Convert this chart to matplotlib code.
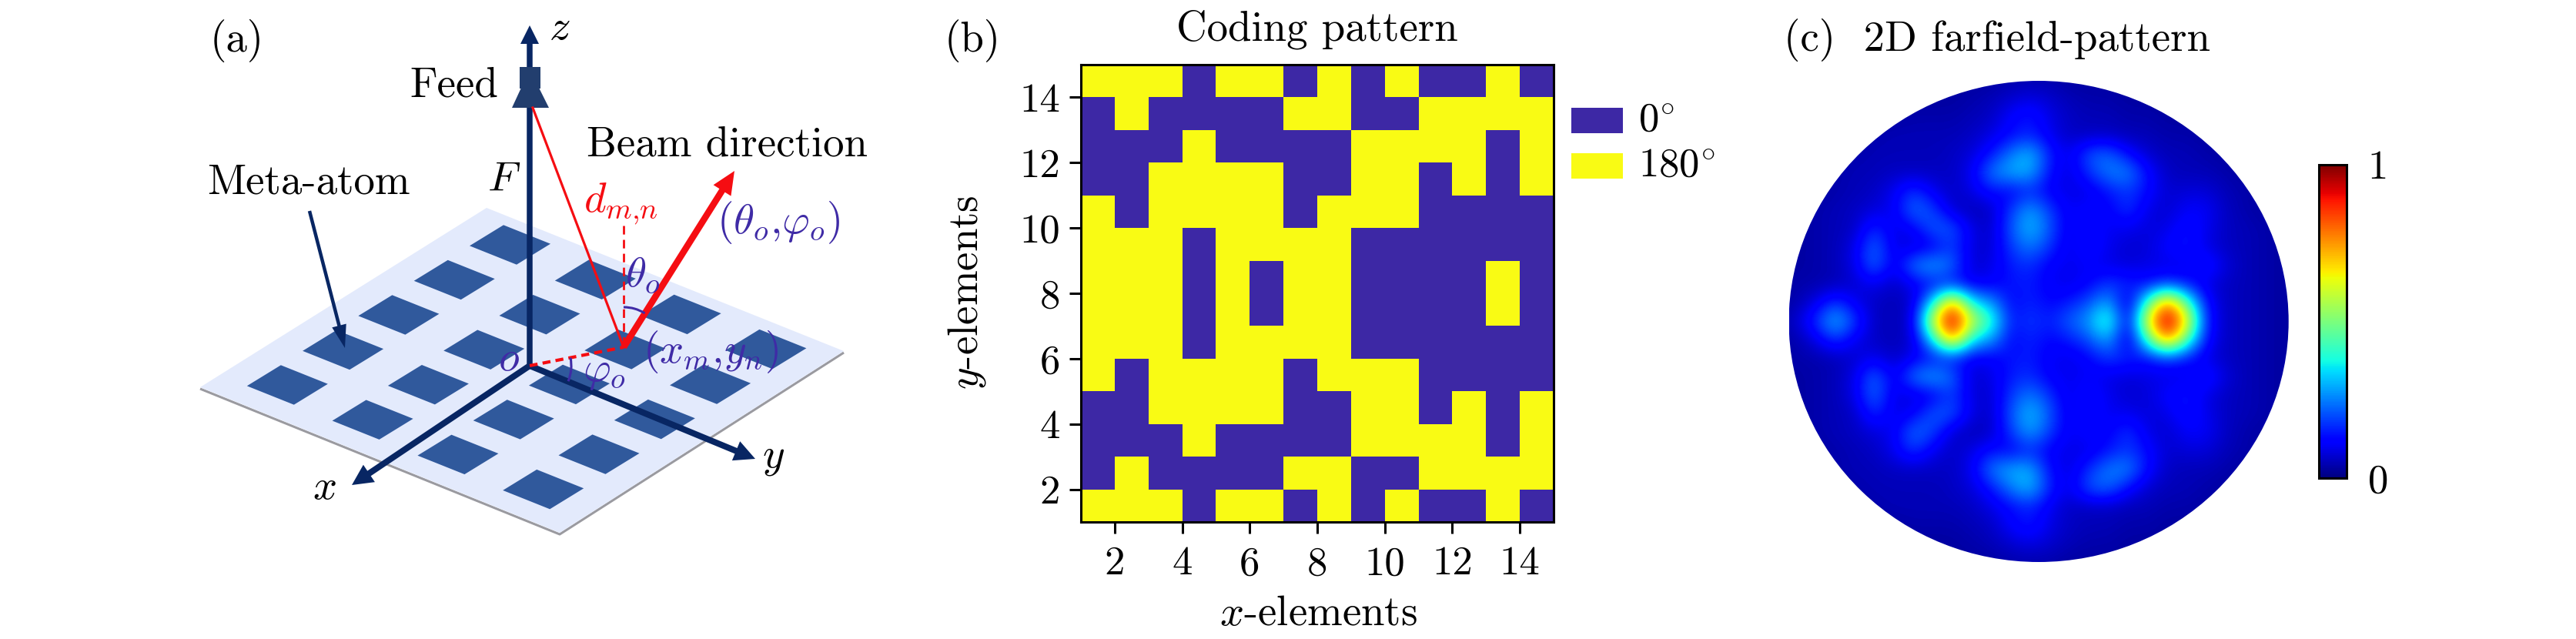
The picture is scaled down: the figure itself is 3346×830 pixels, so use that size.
import matplotlib
matplotlib.use("Agg")
import matplotlib.pyplot as plt
import numpy as np
from matplotlib.colors import ListedColormap
from matplotlib.patches import Polygon, Rectangle, Arc, Ellipse

W, H = 3346, 830
plt.rcParams['font.family'] = ['cmr10']
plt.rcParams['mathtext.fontset'] = 'cm'
plt.rcParams['axes.formatter.use_mathtext'] = True

# ---------- panel (b) values: rows from y=14 (top) down to y=1; 1 = 180 deg, 0 = 0 deg
code_rows = [
    [1,1,1,0,1,1,0,1,0,1,0,0,1,0],
    [0,1,0,0,0,0,1,1,0,0,1,1,1,1],
    [0,0,0,1,0,0,0,0,1,1,1,1,0,1],
    [0,0,1,1,1,1,0,0,1,1,0,1,0,1],
    [1,0,1,1,1,1,0,1,1,1,0,0,0,0],
    [1,1,1,0,1,1,1,1,0,0,0,0,0,0],
    [1,1,1,0,1,0,1,1,0,0,0,0,1,0],
    [1,1,1,0,1,0,1,1,0,0,0,0,1,0],
    [1,1,1,0,1,1,1,1,0,0,0,0,0,0],
    [1,0,1,1,1,1,0,1,1,1,0,0,0,0],
    [0,0,1,1,1,1,0,0,1,1,0,1,0,1],
    [0,0,0,1,0,0,0,0,1,1,1,1,0,1],
    [0,1,0,0,0,0,1,1,0,0,1,1,1,1],
    [1,1,1,0,1,1,0,1,0,1,0,0,1,0],
]
tick_values = [2, 4, 6, 8, 10, 12, 14]
legend_labels = ['0$^{\\circ}$', '180$^{\\circ}$']

# ---------- panel (c) values (percent); upper half + centre row
field_upper = [
    [3,3,3,3,3,3,3,3,3,3,3,3,4,4,4,3,3,3,3,3,3,3,3,3,3,3,3,3],
    [3,3,3,3,3,3,3,3,3,3,4,5,7,9,7,5,4,4,3,3,3,3,3,3,3,3,3,3],
    [3,3,3,3,3,3,3,4,4,4,5,6,12,15,9,6,5,5,4,4,3,3,3,3,3,3,3,3],
    [3,3,3,3,3,4,5,5,5,5,6,9,13,16,10,6,6,6,5,5,4,4,3,3,3,3,3,3],
    [3,3,3,3,4,5,5,5,5,6,8,14,25,32,15,9,21,23,13,7,5,5,4,3,3,3,3,3],
    [3,3,3,4,5,5,6,6,6,6,10,25,30,30,13,8,17,25,26,13,6,5,5,4,3,3,3,3],
    [3,3,3,4,5,6,10,18,10,6,9,14,11,16,11,9,9,14,18,13,7,8,8,5,4,3,3,3],
    [3,3,4,5,6,8,10,24,19,7,5,6,18,29,18,10,13,11,18,9,7,11,11,6,4,3,3,3],
    [3,3,4,5,6,17,9,11,22,21,9,6,21,32,21,9,14,10,10,8,9,14,10,6,5,4,3,3],
    [3,3,4,5,9,24,9,8,10,19,8,7,18,25,17,9,14,10,7,8,12,15,9,6,5,4,3,3],
    [3,3,4,5,9,24,9,25,30,23,7,9,15,17,11,10,11,9,8,9,9,9,16,8,5,4,3,3],
    [3,4,4,5,7,10,6,10,13,14,10,11,14,15,11,9,12,18,16,13,18,14,9,6,5,4,3,3],
    [3,4,9,18,10,6,5,7,35,78,35,28,12,16,12,15,20,30,6,42,80,46,13,6,5,4,3,3],
    [3,7,17,32,18,6,5,8,62,100,60,42,14,18,15,22,28,45,7,65,100,68,15,6,5,4,3,3],
]
cbar_ticks = [0, 1]
cbar_ticklabels = ['0', '1']

# ---------- panel (a) schematic, in picture pixels
plate_x = [632, 1096, 727, 260]
plate_y = [270, 456, 692, 503]
atom_first = (662.5, 318.0)
atom_col_step = (110.8, 45.2)
atom_row_step = (-72.3, 45.5)
atom_cols = [0, 1, 2, 3]
atom_rows = [0, 1, 2, 3, 4]
atom_half_u = (30.5, 12.2)
atom_half_v = (-22.0, 13.5)
origin = (688, 475)
element = (810, 451)
feed_pt = (692, 140)
beam_tip = (954, 222)
z_tip = (688, 33)
x_tip = (457, 630)
y_tip = (981, 596)

NAVY = '#082663'
HORN = '#223e6e'
PURPLE = '#3f2ba6'
RED = '#f50d12'
BLUE_C = '#3d28a5'
YEL_C = '#f9fb14'

fig = plt.figure(figsize=(W / 100, H / 100), dpi=100, facecolor='white')
ov = fig.add_axes([0, 0, 1, 1], zorder=1)
ov.set_xlim(0, W)
ov.set_ylim(H, 0)
ov.axis('off')
ov.patch.set_alpha(0)

ov.plot([plate_x[3], plate_x[2], plate_x[1]], [plate_y[3] + 2, plate_y[2] + 2, plate_y[1] + 2],
        color='#9a9aa0', lw=2.2, zorder=1, solid_capstyle='butt')
ov.add_patch(Polygon(np.c_[plate_x, plate_y], closed=True, fc='#e3eafc', ec='none', zorder=2))
for c in atom_cols:
    for r in atom_rows:
        cx = atom_first[0] + c * atom_col_step[0] + r * atom_row_step[0]
        cy = atom_first[1] + c * atom_col_step[1] + r * atom_row_step[1]
        ux, uy = atom_half_u
        vx, vy = atom_half_v
        pts = [(cx - ux - vx, cy - uy - vy), (cx + ux - vx, cy + uy - vy),
               (cx + ux + vx, cy + uy + vy), (cx - ux + vx, cy - uy + vy)]
        ov.add_patch(Polygon(pts, closed=True, fc='#30599c', ec='none', zorder=3))


def arrow(a, b, width, hw, hl, color, z=5):
    ov.arrow(a[0], a[1], b[0] - a[0], b[1] - a[1], width=width, head_width=hw, head_length=hl,
             length_includes_head=True, fc=color, ec='none', lw=0, zorder=z)


arrow(origin, z_tip, 7.5, 24, 24, NAVY)
arrow(origin, x_tip, 8, 27, 27, NAVY)
arrow(origin, y_tip, 8, 27, 27, NAVY)
arrow((402, 274), (448, 452), 4.5, 19, 30, NAVY, z=6)

# feed horn
ov.add_patch(Rectangle((675, 87), 27, 28, fc=HORN, ec='none', zorder=6))
ov.add_patch(Polygon([(677, 114), (700, 114), (713, 140), (665, 140)], closed=True, fc=HORN, ec='none', zorder=6))

ov.plot([feed_pt[0], element[0]], [feed_pt[1], element[1]], color=RED, lw=2.3, zorder=7)
ov.plot([element[0], element[0]], [293, element[1]], color=RED, lw=2, ls=(0, (4, 2.5)), zorder=7)
ov.plot([origin[0], element[0]], [origin[1], element[1]], color=RED, lw=3, ls=(0, (2.5, 1.6)), zorder=7)
arrow(element, beam_tip, 8.5, 27, 30, RED, z=8)

ov.add_patch(Arc(element, 104, 104, theta1=270, theta2=302, color=PURPLE, lw=2.2, zorder=9))
ov.add_patch(Arc(origin, 108, 108, theta1=-11, theta2=22, color=PURPLE, lw=2.2, zorder=9))

FS = 39.5
def T(x, y, s, color='black', fs=FS, **kw):
    ov.text(x, y, s, color=color, fontsize=fs, ha='center', va='center', zorder=10, **kw)


T(308, 53, '(a)')
T(727, 37, '$z$')
T(590, 112, 'Feed')
T(655, 234, '$F$')
T(945, 189, 'Beam direction')
T(401, 238, 'Meta-atom')
T(421, 634, '$x$')
T(1005, 595, '$y$')
T(661, 467, '$o$', color=PURPLE)
T(806, 265, '$d_{m{,}n}$', color=RED)
T(1011, 289, '$(\\theta_o{,}\\varphi_o)$', color=PURPLE)
T(835, 357, '$\\theta_o$', color=PURPLE)
T(785, 484, '$\\varphi_o$', color=PURPLE)
T(923, 457, '$(x_m{,}y_n)$', color=PURPLE)
T(1263, 53, '(b)')
T(1711, 38, 'Coding pattern')
T(2594, 52, '(c)  2D farfield-pattern')


def add_ax(x0, y0, x1, y1):
    return fig.add_axes([x0 / W, 1 - y1 / H, (x1 - x0) / W, (y1 - y0) / H])


# ---------- panel (b)
axb = add_ax(1404, 84, 2018, 678)
edges = np.arange(1, 16)
axb.pcolormesh(edges, edges, np.array(code_rows)[::-1], cmap=ListedColormap([BLUE_C, YEL_C]), vmin=0, vmax=1)
axb.set_xlim(1, 15)
axb.set_ylim(1, 15)
axb.set_xticks(tick_values)
axb.set_yticks(tick_values)
axb.set_xticklabels([str(t) for t in tick_values])
axb.set_yticklabels([str(t) for t in tick_values])
axb.tick_params(length=10.5, width=2.2, labelsize=38)
axb.tick_params(axis='x', pad=12)
axb.tick_params(axis='y', pad=9)
for s in axb.spines.values():
    s.set_linewidth(2.2)
T(1713, 798, '$x$-elements')
T(1256, 380, '$y$-elements', rotation=90)
for (y0, col, lab) in zip((140, 199), (BLUE_C, YEL_C), legend_labels):
    ov.add_patch(Rectangle((2041, y0), 67, 33, fc=col, ec='none', zorder=5))
    ov.text(2128, y0 + 17, lab, fontsize=38, ha='left', va='center')

# ---------- panel (c)
axc = add_ax(2323.5, 105, 2972.7, 730)
field = np.array(field_upper + field_upper[-2::-1]) / 100
im = axc.imshow(field, cmap='jet', vmin=0, vmax=1, interpolation='bicubic', aspect='auto',
                extent=(-1.089, 1.095, -1.0386, 1.0386), origin='upper')
axc.set_xlim(-1, 1)
axc.set_ylim(-1, 1)
axc.axis('off')
im.set_clip_path(Ellipse((0, 0), 2, 2, transform=axc.transData))

cax = add_ax(3012, 214, 3048, 621)
cb = fig.colorbar(im, cax=cax, ticks=cbar_ticks)
cb.ax.set_yticklabels(cbar_ticklabels)
cb.ax.tick_params(length=0, labelsize=38, pad=20)
cb.outline.set_linewidth(2.2)

fig.savefig('out.png', dpi=100, facecolor='white')
